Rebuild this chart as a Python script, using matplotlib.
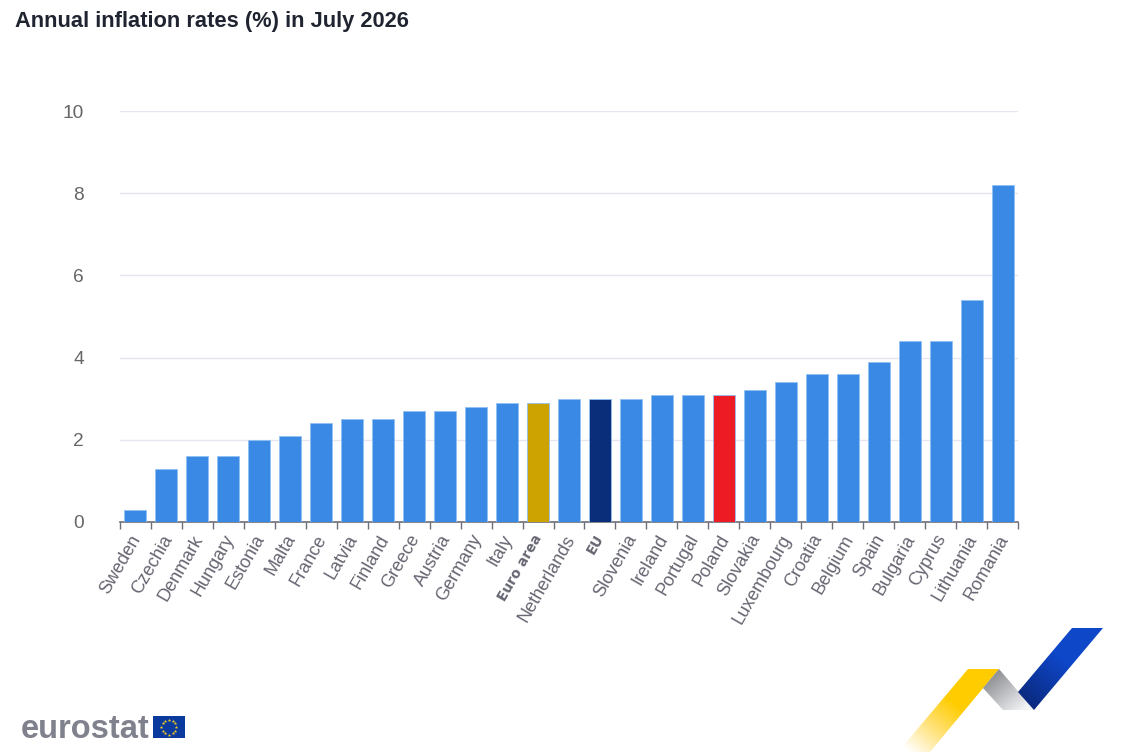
#!/usr/bin/python
# -*- coding: utf-8 -*-

import numpy as np
import matplotlib
matplotlib.use("Agg")
import matplotlib.pyplot as plt
from matplotlib.colors import LinearSegmentedColormap
from matplotlib.patches import Polygon, Rectangle

countries = ["Sweden", "Czechia", "Denmark", "Hungary", "Estonia", "Malta", "France", "Latvia",
             "Finland", "Greece", "Austria", "Germany", "Italy", "Euro area", "Netherlands", "EU",
             "Slovenia", "Ireland", "Portugal", "Poland", "Slovakia", "Luxembourg", "Croatia",
             "Belgium", "Spain", "Bulgaria", "Cyprus", "Lithuania", "Romania"]
rates = [0.3, 1.3, 1.6, 1.6, 2.0, 2.1, 2.4, 2.5, 2.5, 2.7, 2.7, 2.8, 2.9, 2.9, 3.0, 3.0,
         3.0, 3.1, 3.1, 3.1, 3.2, 3.4, 3.6, 3.6, 3.9, 4.4, 4.4, 5.4, 8.2]
highlight = {"Euro area": "#cca300", "EU": "#0b2e7b", "Poland": "#ed1c24"}
bold_labels = ["Euro area", "EU"]
y_ticks = [0, 2, 4, 6, 8, 10]

W, H = 1138, 754
plt.rcParams["font.family"] = ["Liberation Sans", "DejaVu Sans"]


def gradient_poly(ax, pts, colors, start, end):
    # fill a polygon with a linear gradient running from start to end (pixel coords)
    xs, ys = np.meshgrid(np.arange(W) + 0.5, np.arange(H) + 0.5)
    dx, dy = end[0] - start[0], end[1] - start[1]
    t = np.clip(((xs - start[0]) * dx + (ys - start[1]) * dy) / (dx * dx + dy * dy), 0, 1)
    cmap = LinearSegmentedColormap.from_list("g", colors)
    im = ax.imshow(t, cmap=cmap, vmin=0, vmax=1, extent=(0, W, H, 0), aspect="auto", zorder=2)
    im.set_clip_path(Polygon(pts, closed=True, transform=ax.transData))


fig = plt.figure(figsize=(W / 100, H / 100), dpi=100, facecolor="white")

# plot area: x 120-1018 px, y 111-522 px
ax = fig.add_axes([120 / W, 1 - 522 / H, 898 / W, 411 / H])
colors = [highlight.get(c, "#3a89e4") for c in countries]
x = np.arange(len(countries))
ax.bar(x, rates, width=0.71, color=colors, edgecolor="#8fc0f2", linewidth=0.6, zorder=3)
ax.set_xlim(-0.5, len(countries) - 0.5)
ax.set_ylim(0, 10)

ax.set_yticks(y_ticks)
ax.tick_params(axis="y", length=0, pad=26, labelsize=13.8, labelcolor="#666666")
ax.grid(axis="y", color="#e6e6f0", linewidth=1, zorder=0)
ax.set_axisbelow(True)
for side in ["top", "right", "left"]:
    ax.spines[side].set_visible(False)
ax.spines["bottom"].set_color("#6e6e78")
ax.spines["bottom"].set_linewidth(1.2)

# ticks sit on the category edges, labels on the category centres
ax.set_xticks(np.arange(len(countries) + 1) - 0.5)
ax.set_xticklabels([])
ax.tick_params(axis="x", length=5, width=1, color="#6e6e78")
for xi, name in zip(x, countries):
    is_bold = name in bold_labels
    ax.annotate(name, xy=(xi, 0), xycoords=("data", "axes fraction"), xytext=(-4, -7),
                textcoords="offset points", rotation=60, rotation_mode="anchor",
                ha="right", va="top", fontsize=9.8 if is_bold else 13, color="#666672",
                fontweight="bold" if is_bold else "normal",
                family="DejaVu Sans" if is_bold else "Liberation Sans")

fig.text(15 / W, 1 - 21.5 / H, "Annual inflation rates (%) in July 2026", fontsize=15.75,
         fontweight="bold", color="#1f2430", ha="left", va="center")

# overlay in pixel coordinates for the logo and the ribbon
ov = fig.add_axes([0, 0, 1, 1], facecolor="none")
ov.set_xlim(0, W)
ov.set_ylim(H, 0)
ov.axis("off")

ov.text(21, 729, "eurostat", fontsize=23.5, fontweight="bold", color="#7f828c",
        ha="left", va="center")
ov.add_patch(Rectangle((153, 716), 32, 22, facecolor="#0b3a9e", edgecolor="none"))
angles = np.deg2rad(np.arange(0, 360, 30))
ov.scatter(169 + 7.5 * np.cos(angles), 727 + 7.5 * np.sin(angles), s=7, marker="*",
           color="#f0cc20", linewidths=0, zorder=3)

gradient_poly(ov, [(968, 669), (999, 669), (930, 752), (898, 752)],
              ["#ffffff", "#ffe27a", "#ffcc00"], (912, 754), (955, 703))
gradient_poly(ov, [(999, 669), (1034, 710), (1003, 710), (983, 688)],
              ["#8d8e92", "#f2f3f5"], (990, 676), (1020, 712))
gradient_poly(ov, [(1072, 628), (1103, 628), (1034, 710), (1018, 692)],
              ["#0a2a80", "#0f47c9"], (1026, 701), (1062, 658))

fig.savefig("out.png", dpi=100, facecolor="white")
